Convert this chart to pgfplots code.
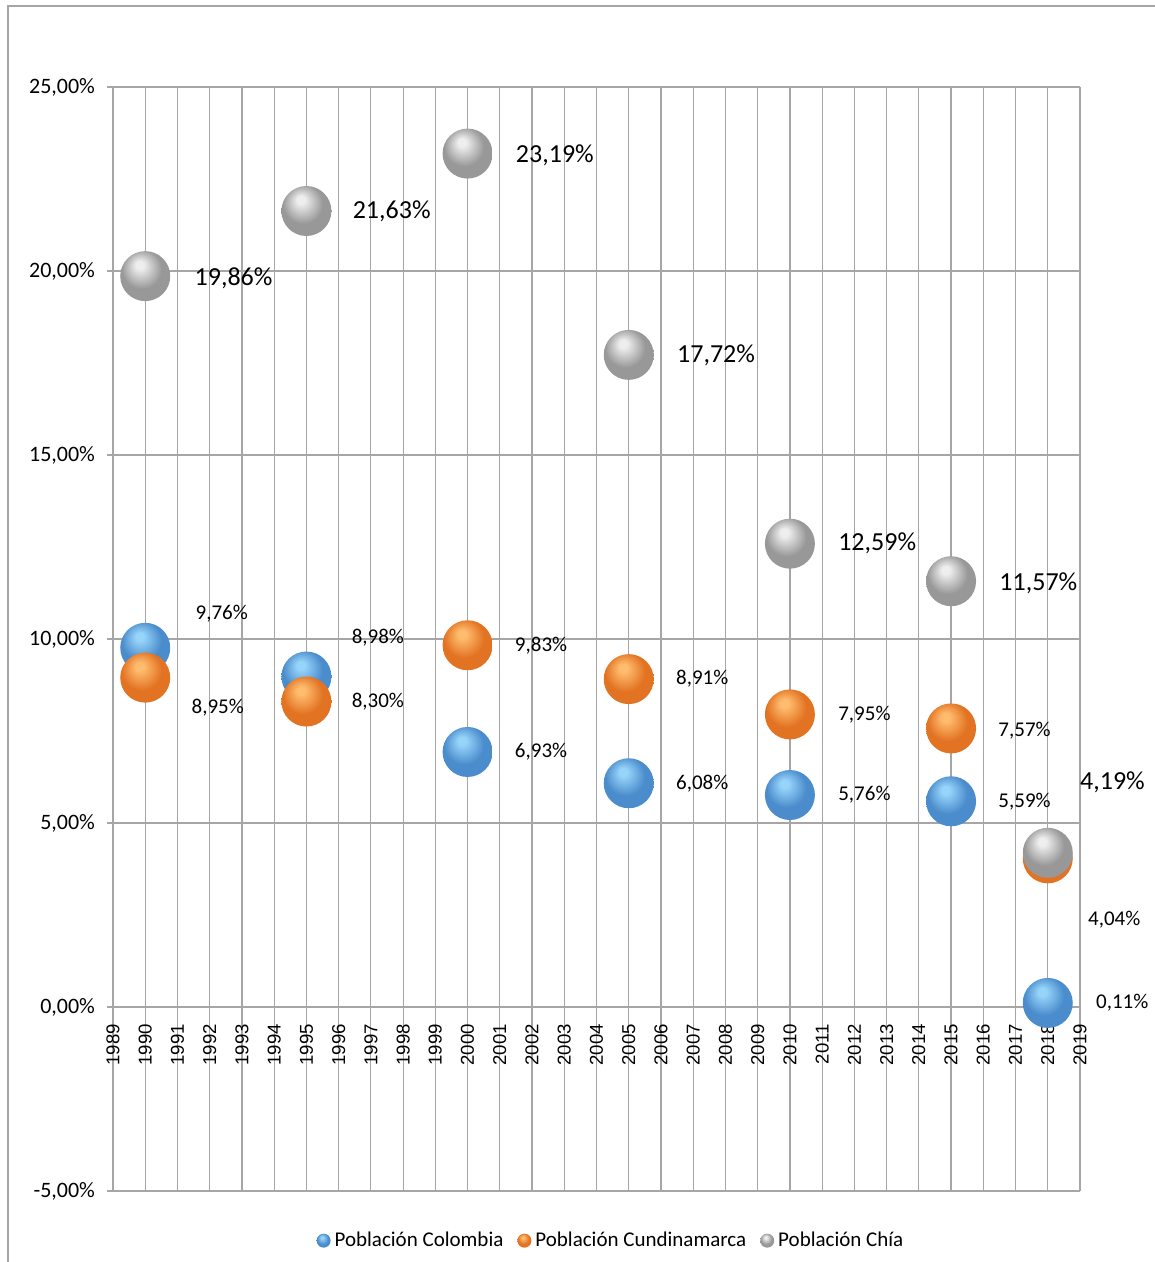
\documentclass[border=0pt]{standalone}
\usepackage{pgfplots}
\pgfplotsset{compat=1.18}
\usepackage{pgfplotstable}
\usepackage{fontspec}
\setmainfont{Carlito}
\newfontfamily\arialfont{Liberation Sans}
\definecolor{gridgray}{RGB}{166,166,166}
% sphere shading colours
\definecolor{bhl}{RGB}{150,212,250}
\definecolor{bmid}{RGB}{74,140,204}
\definecolor{bdark}{RGB}{32,76,136}
\definecolor{ohl}{RGB}{255,188,110}
\definecolor{omid}{RGB}{226,115,35}
\definecolor{odark}{RGB}{150,66,15}
\definecolor{ghl}{RGB}{238,238,238}
\definecolor{gmid}{RGB}{152,152,152}
\definecolor{gdark}{RGB}{82,82,82}
\pgfdeclareradialshading{sphblue}{\pgfpoint{-6bp}{12bp}}{color(0bp)=(bhl); color(4bp)=(bhl); color(20bp)=(bmid); color(36bp)=(bmid); color(47bp)=(bdark); color(50bp)=(bdark)}
\pgfdeclareradialshading{sphorange}{\pgfpoint{-6bp}{12bp}}{color(0bp)=(ohl); color(4bp)=(ohl); color(20bp)=(omid); color(36bp)=(omid); color(47bp)=(odark); color(50bp)=(odark)}
\pgfdeclareradialshading{sphgray}{\pgfpoint{-6bp}{12bp}}{color(0bp)=(ghl); color(4bp)=(ghl); color(20bp)=(gmid); color(36bp)=(gmid); color(47bp)=(gdark); color(50bp)=(gdark)}
\pgfdeclareplotmark{sphblue}{\pgfpathcircle{\pgfpointorigin}{\pgfplotmarksize}\pgfshadepath{sphblue}{0}\pgfusepath{discard}}
\pgfdeclareplotmark{sphorange}{\pgfpathcircle{\pgfpointorigin}{\pgfplotmarksize}\pgfshadepath{sphorange}{0}\pgfusepath{discard}}
\pgfdeclareplotmark{sphgray}{\pgfpathcircle{\pgfpointorigin}{\pgfplotmarksize}\pgfshadepath{sphgray}{0}\pgfusepath{discard}}

% x y label dx dy  (dx, dy: label offset in pt from the marker centre)
\pgfplotstableread{
x y lab dx dy
1990 9.76 9,76\% 25 17
1995 8.98 8,98\% 22.5 19.5
2000 6.93 6,93\% 23.5 0
2005 6.08 6,08\% 23.5 0
2010 5.76 5,76\% 24 0
2015 5.59 5,59\% 23.5 0
2018 0.11 0,11\% 24 0
}\colombia
\pgfplotstableread{
x y lab dx dy
1990 8.95 8,95\% 23 -15
1995 8.30 8,30\% 22.5 0
2000 9.83 9,83\% 23.5 0
2005 8.91 8,91\% 23.5 0
2010 7.95 7,95\% 24 0
2015 7.57 7,57\% 23.5 -1
2018 4.04 4,04\% 20 -30.5
}\cundinamarca
\pgfplotstableread{
x y lab dx dy
1990 19.86 19,86\% 24.5 -1
1995 21.63 21,63\% 23 0
2000 23.19 23,19\% 24 -1
2005 17.72 17,72\% 24 0
2010 12.59 12,59\% 24 0
2015 11.57 11,57\% 24 -1
2018 4.19 4,19\% 16 35.5
}\chia

\begin{document}
\begin{tikzpicture}
\begin{axis}[
    scale only axis,
    width=483.5pt, height=552pt,
    xmin=1989, xmax=2019, ymin=-5, ymax=25,
    xtick={1989,1990,...,2019},
    ytick={-5,0,...,25},
    yticklabels={{-5,00\%},{0,00\%},{5,00\%},{10,00\%},{15,00\%},{20,00\%},{25,00\%}},
    xticklabel={\pgfmathtruncatemacro\yr{round(\tick)}\yr},
    axis x line*=middle, axis y line*=left,
    hide obscured x ticks=false,
    axis line style={gridgray, line width=0.6pt, -},
    grid=major,
    major grid style={gridgray, line width=0.6pt},
    tick style={gridgray, line width=0.6pt},
    xtick style={draw=none},
    tick align=outside,
    major tick length=3pt,
    yticklabel style={font=\fontsize{11}{13}\selectfont, xshift=-2.5pt},
    xticklabel style={font=\arialfont\fontsize{9.3}{10}\selectfont, rotate=90, anchor=east, xshift=-2pt},
    legend style={at={(0.516,-0.045)}, anchor=center, draw=none, fill=none,
        legend columns=3, font=\fontsize{10.5}{12}\selectfont,
        /tikz/every even column/.append style={column sep=5pt}},
    legend image post style={mark size=3.5pt},
    nodes near coords,
    point meta=explicit symbolic,
]
\addplot[only marks, mark=sphblue, mark size=12.5pt,
    visualization depends on={\thisrow{dx}\as\lx},
    visualization depends on={\thisrow{dy}\as\ly},
    every node near coord/.append style={anchor=west, inner sep=0pt, xshift=\lx pt, yshift=\ly pt, text=black, font=\fontsize{10.5}{12}\selectfont}]
    table[x=x, y=y, meta=lab] {\colombia};
\addlegendentry{Población Colombia}
\addplot[only marks, mark=sphorange, mark size=12.5pt,
    visualization depends on={\thisrow{dx}\as\lx},
    visualization depends on={\thisrow{dy}\as\ly},
    every node near coord/.append style={anchor=west, inner sep=0pt, xshift=\lx pt, yshift=\ly pt, text=black, font=\fontsize{10.5}{12}\selectfont}]
    table[x=x, y=y, meta=lab] {\cundinamarca};
\addlegendentry{Población Cundinamarca}
\addplot[only marks, mark=sphgray, mark size=12.5pt,
    visualization depends on={\thisrow{dx}\as\lx},
    visualization depends on={\thisrow{dy}\as\ly},
    every node near coord/.append style={anchor=west, inner sep=0pt, xshift=\lx pt, yshift=\ly pt, text=black, font=\fontsize{13}{15}\selectfont}]
    table[x=x, y=y, meta=lab] {\chia};
\addlegendentry{Población Chía}
\end{axis}
\draw[gridgray, line width=0.6pt] (-52.5pt,-35.5pt) -- (-52.5pt,592.5pt) -- (521pt,592.5pt);
\pgfresetboundingbox
\path (-56.5pt,-35.5pt) rectangle (521pt,595.5pt);
\end{tikzpicture}
\end{document}
